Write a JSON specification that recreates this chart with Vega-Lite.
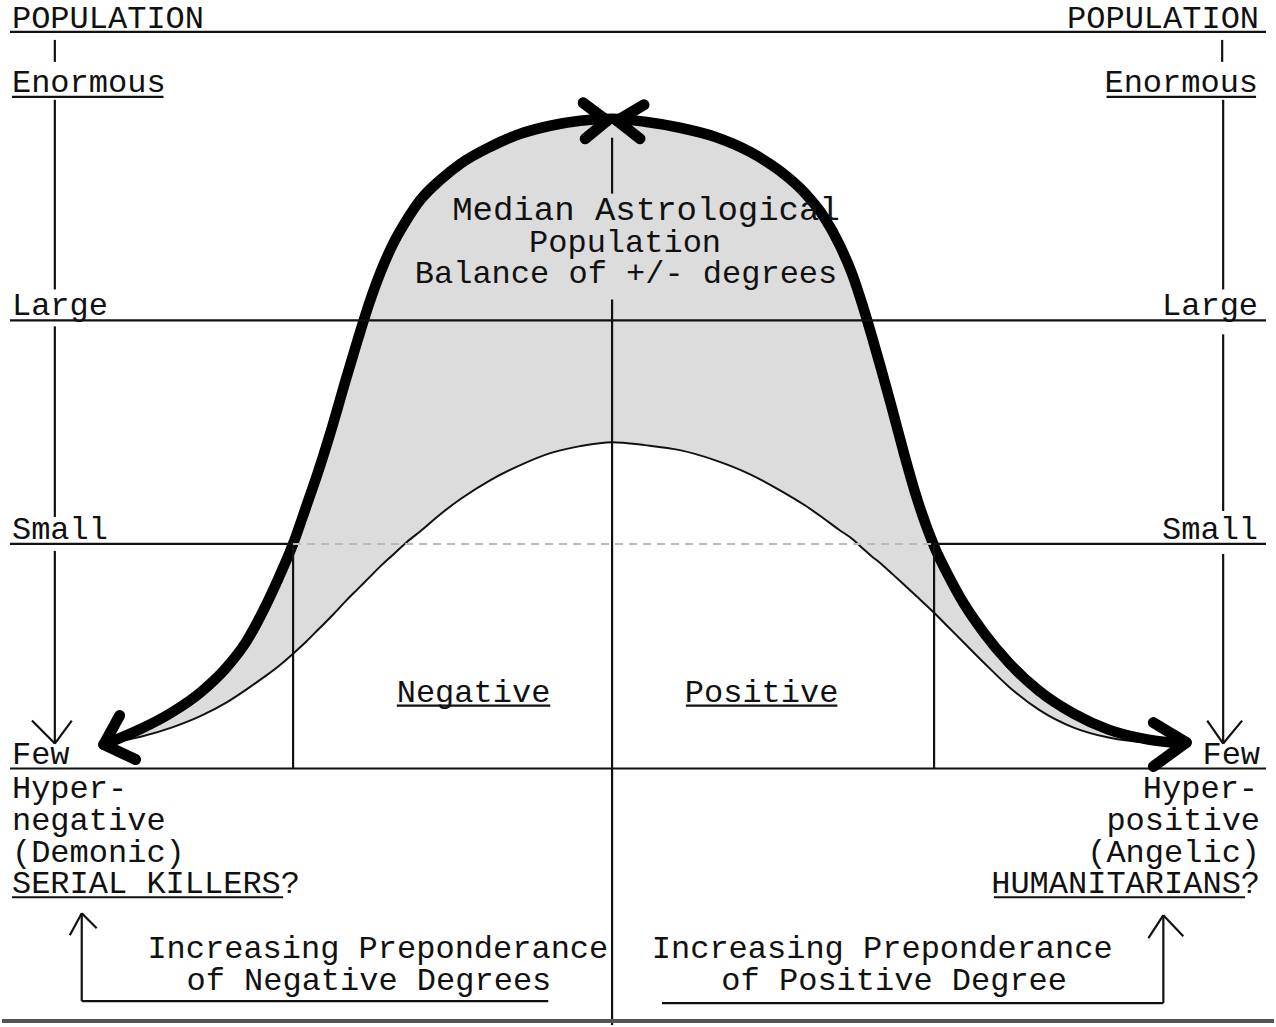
{
  "$schema": "https://vega.github.io/schema/vega-lite/v6.json",
  "autosize": {"type": "fit", "contains": "padding"},
  "width": 1276,
  "height": 1027,
  "padding": 0,
  "background": "#ffffff",
  "config": {"view": {"stroke": null}},
  "datasets": {
    "curve": [
      {"x": 105, "outer": 745, "inner": 745},
      {"x": 140, "outer": 730, "inner": 738},
      {"x": 170, "outer": 714, "inner": 729},
      {"x": 200, "outer": 693, "inner": 717},
      {"x": 225, "outer": 669, "inner": 704},
      {"x": 245, "outer": 643, "inner": 691},
      {"x": 262, "outer": 612, "inner": 679},
      {"x": 278, "outer": 578, "inner": 667},
      {"x": 292, "outer": 545, "inner": 655},
      {"x": 305, "outer": 508, "inner": 643},
      {"x": 318, "outer": 470, "inner": 630},
      {"x": 332, "outer": 425, "inner": 616},
      {"x": 345, "outer": 380, "inner": 602},
      {"x": 357, "outer": 340, "inner": 590},
      {"x": 368, "outer": 305, "inner": 579},
      {"x": 380, "outer": 272, "inner": 567},
      {"x": 392, "outer": 245, "inner": 556},
      {"x": 405, "outer": 222, "inner": 544},
      {"x": 420, "outer": 200, "inner": 532},
      {"x": 440, "outer": 180, "inner": 515},
      {"x": 460, "outer": 164, "inner": 500},
      {"x": 490, "outer": 147, "inner": 481},
      {"x": 520, "outer": 134, "inner": 466},
      {"x": 550, "outer": 126, "inner": 454},
      {"x": 580, "outer": 121, "inner": 447},
      {"x": 612, "outer": 119, "inner": 443},
      {"x": 645, "outer": 122, "inner": 446},
      {"x": 680, "outer": 128, "inner": 451},
      {"x": 715, "outer": 137, "inner": 461},
      {"x": 750, "outer": 152, "inner": 475},
      {"x": 780, "outer": 171, "inner": 491},
      {"x": 805, "outer": 193, "inner": 506},
      {"x": 825, "outer": 218, "inner": 520},
      {"x": 840, "outer": 245, "inner": 531},
      {"x": 853, "outer": 275, "inner": 540},
      {"x": 863, "outer": 305, "inner": 549},
      {"x": 872, "outer": 335, "inner": 557},
      {"x": 882, "outer": 370, "inner": 565},
      {"x": 893, "outer": 410, "inner": 575},
      {"x": 905, "outer": 455, "inner": 586},
      {"x": 918, "outer": 500, "inner": 598},
      {"x": 935, "outer": 547, "inner": 614},
      {"x": 950, "outer": 578, "inner": 629},
      {"x": 965, "outer": 605, "inner": 644},
      {"x": 985, "outer": 634, "inner": 664},
      {"x": 1010, "outer": 664, "inner": 688},
      {"x": 1040, "outer": 692, "inner": 711},
      {"x": 1075, "outer": 715, "inner": 729},
      {"x": 1110, "outer": 731, "inner": 739},
      {"x": 1150, "outer": 741, "inner": 744},
      {"x": 1185, "outer": 745, "inner": 745}
    ],
    "seg": [
      {"kind": "thin", "x": 8, "y": 32, "x2": 1268, "y2": 32},
      {"kind": "thin", "x": 8, "y": 321, "x2": 1268, "y2": 321},
      {"kind": "thin", "x": 8, "y": 545, "x2": 292, "y2": 545},
      {"kind": "thin", "x": 935, "y": 545, "x2": 1268, "y2": 545},
      {"kind": "thin", "x": 8, "y": 770, "x2": 1268, "y2": 770},
      {"kind": "thin", "x": 612, "y": 138, "x2": 612, "y2": 194},
      {"kind": "thin", "x": 612, "y": 300, "x2": 612, "y2": 1027},
      {"kind": "thin", "x": 292, "y": 545, "x2": 292, "y2": 770},
      {"kind": "thin", "x": 935, "y": 545, "x2": 935, "y2": 770},
      {"kind": "thin", "x": 53, "y": 40, "x2": 53, "y2": 62},
      {"kind": "thin", "x": 53, "y": 100, "x2": 53, "y2": 290},
      {"kind": "thin", "x": 53, "y": 327, "x2": 53, "y2": 518},
      {"kind": "thin", "x": 53, "y": 552, "x2": 53, "y2": 745},
      {"kind": "thin", "x": 53, "y": 745, "x2": 30, "y2": 722},
      {"kind": "thin", "x": 53, "y": 745, "x2": 70, "y2": 722},
      {"kind": "thin", "x": 1224, "y": 40, "x2": 1224, "y2": 62},
      {"kind": "thin", "x": 1225, "y": 100, "x2": 1225, "y2": 290},
      {"kind": "thin", "x": 1225, "y": 335, "x2": 1225, "y2": 512},
      {"kind": "thin", "x": 1225, "y": 555, "x2": 1225, "y2": 745},
      {"kind": "thin", "x": 1225, "y": 745, "x2": 1209, "y2": 722},
      {"kind": "thin", "x": 1225, "y": 745, "x2": 1244, "y2": 722},
      {"kind": "thin", "x": 10, "y": 97, "x2": 162, "y2": 97},
      {"kind": "thin", "x": 1108, "y": 97, "x2": 1258, "y2": 97},
      {"kind": "thin", "x": 396, "y": 707, "x2": 550, "y2": 707},
      {"kind": "thin", "x": 686, "y": 707, "x2": 838, "y2": 707},
      {"kind": "thin", "x": 10, "y": 899, "x2": 282, "y2": 899},
      {"kind": "thin", "x": 995, "y": 899, "x2": 1247, "y2": 899},
      {"kind": "thin", "x": 80, "y": 1003, "x2": 548, "y2": 1003},
      {"kind": "thin", "x": 80, "y": 1003, "x2": 80, "y2": 915},
      {"kind": "thin", "x": 80, "y": 915, "x2": 68, "y2": 937},
      {"kind": "thin", "x": 80, "y": 915, "x2": 95, "y2": 930},
      {"kind": "thin", "x": 662, "y": 1005, "x2": 1165, "y2": 1005},
      {"kind": "thin", "x": 1165, "y": 1005, "x2": 1165, "y2": 917},
      {"kind": "thin", "x": 1165, "y": 917, "x2": 1150, "y2": 940},
      {"kind": "thin", "x": 1165, "y": 917, "x2": 1185, "y2": 938},
      {"kind": "frame", "x": 0, "y": 1023, "x2": 1276, "y2": 1023},
      {"kind": "dashed", "x": 292, "y": 545, "x2": 935, "y2": 545},
      {"kind": "thick", "x": 607, "y": 121, "x2": 583, "y2": 103},
      {"kind": "thick", "x": 607, "y": 121, "x2": 585, "y2": 139},
      {"kind": "thick", "x": 617, "y": 121, "x2": 644, "y2": 105},
      {"kind": "thick", "x": 617, "y": 121, "x2": 640, "y2": 139},
      {"kind": "thick", "x": 102, "y": 746, "x2": 118, "y2": 717},
      {"kind": "thick", "x": 102, "y": 746, "x2": 134, "y2": 761},
      {"kind": "thick", "x": 1188, "y": 744, "x2": 1155, "y2": 724},
      {"kind": "thick", "x": 1188, "y": 744, "x2": 1155, "y2": 768}
    ],
    "labels": [
      {"side": "left", "text": "POPULATION", "x": 10, "y": 28},
      {"side": "left", "text": "Enormous", "x": 10, "y": 92},
      {"side": "left", "text": "Large", "x": 10, "y": 316},
      {"side": "left", "text": "Small", "x": 10, "y": 540},
      {"side": "left", "text": "Few", "x": 10, "y": 765},
      {"side": "left", "text": "Hyper-", "x": 10, "y": 800},
      {"side": "left", "text": "negative", "x": 10, "y": 832},
      {"side": "left", "text": "(Demonic)", "x": 10, "y": 864},
      {"side": "left", "text": "SERIAL KILLERS?", "x": 10, "y": 895},
      {"side": "right", "text": "POPULATION", "x": 1261, "y": 28},
      {"side": "right", "text": "Enormous", "x": 1260, "y": 92},
      {"side": "right", "text": "Large", "x": 1260, "y": 316},
      {"side": "right", "text": "Small", "x": 1260, "y": 540},
      {"side": "right", "text": "Few", "x": 1262, "y": 765},
      {"side": "right", "text": "Hyper-", "x": 1260, "y": 800},
      {"side": "right", "text": "positive", "x": 1262, "y": 832},
      {"side": "right", "text": "(Angelic)", "x": 1262, "y": 864},
      {"side": "right", "text": "HUMANITARIANS?", "x": 1262, "y": 895},
      {"side": "wide", "text": "Median Astrological", "x": 646, "y": 220},
      {"side": "center", "text": "Population", "x": 625, "y": 252},
      {"side": "center", "text": "Balance of +/- degrees", "x": 626, "y": 284},
      {"side": "center", "text": "Negative", "x": 473, "y": 703},
      {"side": "center", "text": "Positive", "x": 762, "y": 703},
      {"side": "center", "text": "Increasing Preponderance", "x": 377, "y": 960},
      {"side": "center", "text": "of Negative Degrees", "x": 368, "y": 992},
      {"side": "center", "text": "Increasing Preponderance", "x": 883, "y": 960},
      {"side": "center", "text": "of Positive Degree", "x": 895, "y": 992}
    ]
  },
  "layer": [
    {
      "data": {"name": "curve"},
      "mark": {"type": "area", "interpolate": "monotone", "fill": "#dcdcdc"},
      "encoding": {
        "x": {"field": "x", "type": "quantitative", "scale": {"domain": [0, 1276], "nice": false, "zero": false}, "axis": null},
        "y": {"field": "outer", "type": "quantitative", "scale": {"domain": [0, 1027], "reverse": true, "nice": false, "zero": false}, "axis": null},
        "y2": {"field": "inner"}
      }
    },
    {
      "data": {"name": "curve"},
      "mark": {"type": "line", "interpolate": "monotone", "color": "#111111", "strokeWidth": 2},
      "encoding": {
        "x": {"field": "x", "type": "quantitative"},
        "y": {"field": "inner", "type": "quantitative"}
      }
    },
    {
      "data": {"name": "curve"},
      "mark": {"type": "line", "interpolate": "monotone", "color": "#000000", "strokeWidth": 10.5, "strokeCap": "round"},
      "encoding": {
        "x": {"field": "x", "type": "quantitative"},
        "y": {"field": "outer", "type": "quantitative"}
      }
    },
    {
      "data": {"name": "seg"},
      "transform": [{"filter": "datum.kind === 'thin'"}],
      "mark": {"type": "rule", "color": "#111111", "strokeWidth": 2.2},
      "encoding": {
        "x": {"field": "x", "type": "quantitative"},
        "y": {"field": "y", "type": "quantitative"},
        "x2": {"field": "x2"},
        "y2": {"field": "y2"}
      }
    },
    {
      "data": {"name": "seg"},
      "transform": [{"filter": "datum.kind === 'frame'"}],
      "mark": {"type": "rule", "color": "#555555", "strokeWidth": 4},
      "encoding": {
        "x": {"field": "x", "type": "quantitative"},
        "y": {"field": "y", "type": "quantitative"},
        "x2": {"field": "x2"},
        "y2": {"field": "y2"}
      }
    },
    {
      "data": {"name": "seg"},
      "transform": [{"filter": "datum.kind === 'dashed'"}],
      "mark": {"type": "rule", "color": "#bbbbbb", "strokeWidth": 2, "strokeDash": [8, 6]},
      "encoding": {
        "x": {"field": "x", "type": "quantitative"},
        "y": {"field": "y", "type": "quantitative"},
        "x2": {"field": "x2"},
        "y2": {"field": "y2"}
      }
    },
    {
      "data": {"name": "seg"},
      "transform": [{"filter": "datum.kind === 'thick'"}],
      "mark": {"type": "rule", "color": "#000000", "strokeWidth": 11, "strokeCap": "round"},
      "encoding": {
        "x": {"field": "x", "type": "quantitative"},
        "y": {"field": "y", "type": "quantitative"},
        "x2": {"field": "x2"},
        "y2": {"field": "y2"}
      }
    },
    {
      "data": {"name": "labels"},
      "transform": [{"filter": "datum.side === 'left'"}],
      "mark": {"type": "text", "align": "left", "baseline": "alphabetic", "font": "Liberation Mono", "fontSize": 32, "color": "#111111"},
      "encoding": {
        "x": {"field": "x", "type": "quantitative"},
        "y": {"field": "y", "type": "quantitative"},
        "text": {"field": "text"}
      }
    },
    {
      "data": {"name": "labels"},
      "transform": [{"filter": "datum.side === 'right'"}],
      "mark": {"type": "text", "align": "right", "baseline": "alphabetic", "font": "Liberation Mono", "fontSize": 32, "color": "#111111"},
      "encoding": {
        "x": {"field": "x", "type": "quantitative"},
        "y": {"field": "y", "type": "quantitative"},
        "text": {"field": "text"}
      }
    },
    {
      "data": {"name": "labels"},
      "transform": [{"filter": "datum.side === 'center'"}],
      "mark": {"type": "text", "align": "center", "baseline": "alphabetic", "font": "Liberation Mono", "fontSize": 32, "color": "#111111"},
      "encoding": {
        "x": {"field": "x", "type": "quantitative"},
        "y": {"field": "y", "type": "quantitative"},
        "text": {"field": "text"}
      }
    },
    {
      "data": {"name": "labels"},
      "transform": [{"filter": "datum.side === 'wide'"}],
      "mark": {"type": "text", "align": "center", "baseline": "alphabetic", "font": "Liberation Mono", "fontSize": 34, "color": "#111111"},
      "encoding": {
        "x": {"field": "x", "type": "quantitative"},
        "y": {"field": "y", "type": "quantitative"},
        "text": {"field": "text"}
      }
    }
  ]
}
